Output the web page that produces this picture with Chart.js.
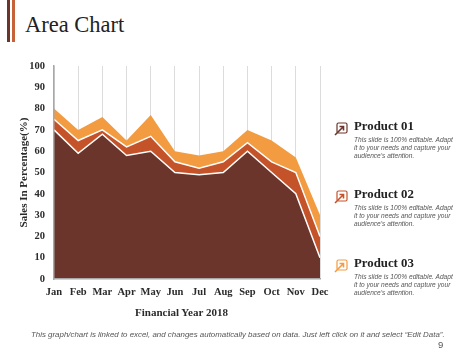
<!DOCTYPE html>
<html>
<head>
<meta charset="utf-8">
<script src="https://cdn.jsdelivr.net/npm/chart.js@4"></script>
<style>
  html, body { margin: 0; padding: 0; background: #fff; }
  #wrap { position: relative; width: 474px; height: 355px; overflow: hidden; }
  #areaChart { position: absolute; left: 0; top: 0; }
  .bar { position: absolute; top: 0; height: 42px; }
  .abs { position: absolute; white-space: nowrap; }
  .title { left: 25px; top: 12px; font: 22.5px "Liberation Serif", serif; color: #222; }
  .xname { left: 135px; top: 306px; font: bold 11px "Liberation Serif", serif; color: #2b2b2b; }
  .prod { left: 354px; font: bold 12.8px "Liberation Serif", serif; color: #222; }
  .desc { left: 354px; font: italic 6.6px/8.2px "Liberation Sans", sans-serif; color: #555; }
  .foot { left: 31px; top: 330px; font: italic 7.9px "Liberation Sans", sans-serif; color: #555; }
  .page { left: 438px; top: 339px; font: 9.5px "Liberation Sans", sans-serif; color: #555; }
  svg { position: absolute; left: 334px; }
</style>
</head>
<body>
<div id="wrap">
  <div class="bar" style="left:7px;width:3px;background:#6b352b"></div>
  <div class="bar" style="left:12px;width:3px;background:#c5623a"></div>
  <div class="abs title">Area Chart</div>
  <canvas id="areaChart" width="474" height="355"></canvas>
  <div class="abs xname">Financial Year 2018</div>
  <div id="legend"></div>
  <div class="abs foot">This graph/chart is linked to excel, and changes automatically based on data.  Just left click on it and select “Edit Data”.</div>
  <div class="abs page">9</div>
</div>

<script>
const months = ['Jan', 'Feb', 'Mar', 'Apr', 'May', 'Jun', 'Jul', 'Aug', 'Sep', 'Oct', 'Nov', 'Dec'];
const product01 = [70, 59, 68, 58, 60, 50, 49, 50, 60, 50, 40, 10];
const product02 = [75, 65, 70, 62, 67, 55, 52, 55, 64, 55, 50, 20];
const product03 = [80, 70, 76, 65, 77, 60, 58, 60, 70, 65, 57, 30];
const productNames = ['Product 01', 'Product 02', 'Product 03'];
const productColors = ['#6b352b', '#c5532a', '#f29b41'];
const legendTops = [119, 187, 256];
const blurb = "This slide is 100% editable. Adapt<br>it to your needs and capture your<br>audience's attention.";

// legend on the right
const legend = document.getElementById('legend');
productNames.forEach(function (name, i) {
  const top = legendTops[i];
  legend.insertAdjacentHTML('beforeend',
    '<svg style="top:' + (top + 3) + 'px" width="14" height="14" viewBox="0 0 14 14">' +
    '<rect x="3" y="1" width="10" height="10" rx="1.5" fill="none" stroke="' + productColors[i] + '" stroke-width="1.2"/>' +
    '<path d="M1 13 L9 5 M5.5 4.5 H9.5 V8.5" fill="none" stroke="' + productColors[i] + '" stroke-width="1.6"/></svg>' +
    '<div class="abs prod" style="top:' + top + 'px">' + name + '</div>' +
    '<div class="abs desc" style="top:' + (top + 17) + 'px">' + blurb + '</div>');
});

const tickFont = { family: '"Liberation Serif", serif', size: 10.5, weight: 'bold' };

new Chart(document.getElementById('areaChart').getContext('2d'), {
  type: 'line',
  data: {
    labels: months,
    datasets: [
      { label: productNames[0], data: product01, backgroundColor: productColors[0], borderColor: '#fff', borderWidth: 1.5, fill: 'origin', pointRadius: 0, tension: 0 },
      { label: productNames[1], data: product02, backgroundColor: productColors[1], borderColor: '#fff', borderWidth: 1.5, fill: 'origin', pointRadius: 0, tension: 0 },
      { label: productNames[2], data: product03, backgroundColor: productColors[2], borderColor: productColors[2], borderWidth: 0, fill: 'origin', pointRadius: 0, tension: 0 }
    ]
  },
  options: {
    responsive: false,
    animation: false,
    layout: { padding: { left: 18, top: 66, right: 154, bottom: 0 } },
    plugins: { legend: { display: false }, tooltip: { enabled: false } },
    scales: {
      x: {
        offset: false,
        afterFit: function (s) { s.height = 76; },
        grid: { color: '#dcdcdc', lineWidth: 1, drawTicks: false },
        border: { color: '#a8a8a8', width: 1.5, z: 1 },
        ticks: { color: '#2b2b2b', font: tickFont, padding: 7, autoSkip: false, maxRotation: 0 },
      },
      y: {
        min: 0,
        max: 100,
        afterFit: function (s) { s.width = 36; },
        grid: { display: false },
        border: { color: '#a8a8a8', width: 1.5, z: 1 },
        ticks: { stepSize: 10, color: '#2b2b2b', font: tickFont, padding: 1 },
        title: { display: true, text: 'Sales In Percentage(%)', color: '#2b2b2b', font: { family: tickFont.family, size: 11, weight: 'bold' }, padding: { top: 0, bottom: 0 } }
      }
    }
  }
});
</script>
</body>
</html>
